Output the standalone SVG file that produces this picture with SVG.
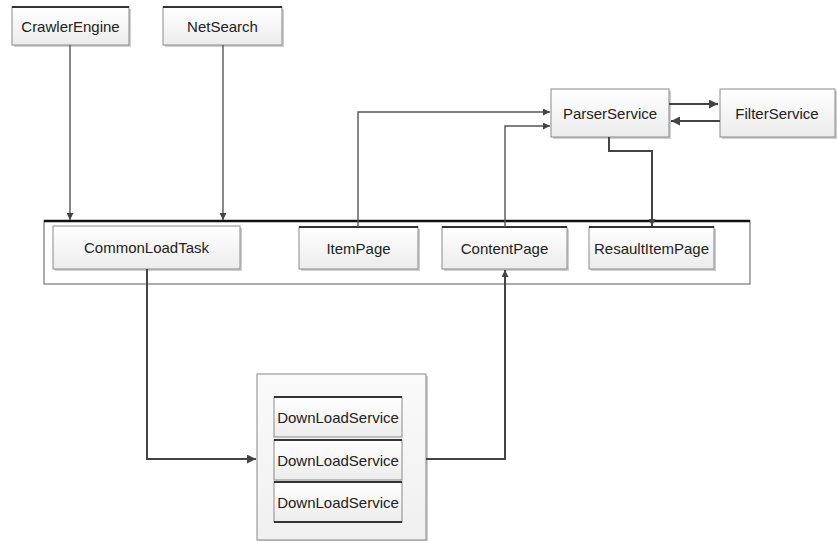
<svg xmlns="http://www.w3.org/2000/svg" width="837" height="541" viewBox="0 0 837 541">
<style>
.box{fill:url(#g);stroke:#8a8a8a;stroke-width:1}
.sh{fill:#cfcfcf}
.top{stroke:#333;stroke-width:2.2}
.t{font-family:"Liberation Sans",Arial,sans-serif;font-size:15px;fill:#222;text-anchor:middle}
.c{fill:none;stroke:#555;stroke-width:1.4}
.c2{fill:none;stroke:#444;stroke-width:2}
</style>
<defs>
<linearGradient id="g" x1="0" y1="0" x2="0" y2="1"><stop offset="0" stop-color="#ffffff"/><stop offset="1" stop-color="#ececec"/></linearGradient>
<linearGradient id="g2" x1="0" y1="0" x2="0" y2="1"><stop offset="0" stop-color="#fafafa"/><stop offset="1" stop-color="#f0f0f0"/></linearGradient>
<marker id="a" viewBox="0 0 10 10" refX="10" refY="5" markerWidth="7" markerHeight="7" markerUnits="userSpaceOnUse" orient="auto"><path d="M0,0 L10,5 L0,10 z" fill="#444"/></marker>
<marker id="b" viewBox="0 0 10 10" refX="10" refY="5" markerWidth="9" markerHeight="9" markerUnits="userSpaceOnUse" orient="auto"><path d="M0,0 L10,5 L0,10 z" fill="#444"/></marker>
</defs>
<rect width="837" height="541" fill="#fff"/>

<g id="container">
<rect x="44" y="221" width="706" height="63" fill="#fff" stroke="#777" stroke-width="1.2"/>
<line x1="44" y1="221" x2="750" y2="221" stroke="#111" stroke-width="2.5"/>
</g>

<g id="downloadGroup">
<rect x="259" y="376" width="169" height="165" fill="#cfcfcf"/>
<rect x="257" y="374" width="169" height="166" fill="url(#g2)" stroke="#888" stroke-width="1"/>
</g>

<g id="CrawlerEngine">
<rect class="sh" x="14" y="9" width="117" height="38"/>
<rect class="box" x="12" y="7" width="117" height="38"/>
<line class="top" x1="12" y1="7" x2="129" y2="7"/>
<text class="t" x="70.5" y="32">CrawlerEngine</text>
</g>
<g id="NetSearch">
<rect class="sh" x="165" y="9" width="119" height="38"/>
<rect class="box" x="163" y="7" width="119" height="38"/>
<line class="top" x1="163" y1="7" x2="282" y2="7"/>
<text class="t" x="222.5" y="32">NetSearch</text>
</g>
<g id="ParserService">
<rect class="sh" x="553" y="91" width="118" height="48"/>
<rect class="box" x="551" y="89" width="118" height="48"/>
<text class="t" x="610" y="119">ParserService</text>
</g>
<g id="FilterService">
<rect class="sh" x="722" y="91" width="115" height="48"/>
<rect class="box" x="720" y="89" width="115" height="48"/>
<text class="t" x="777" y="119">FilterService</text>
</g>
<g id="CommonLoadTask">
<rect class="sh" x="55" y="228" width="187" height="43"/>
<rect class="box" x="53" y="226" width="187" height="43"/>
<text class="t" x="146.5" y="253">CommonLoadTask</text>
</g>
<g id="ItemPage">
<rect class="sh" x="301" y="229" width="119" height="42"/>
<rect class="box" x="299" y="227" width="119" height="42"/>
<line class="top" x1="299" y1="227" x2="418" y2="227"/>
<text class="t" x="358.5" y="254">ItemPage</text>
</g>
<g id="ContentPage">
<rect class="sh" x="444" y="229" width="125" height="42"/>
<rect class="box" x="442" y="227" width="125" height="42"/>
<line class="top" x1="442" y1="227" x2="567" y2="227"/>
<text class="t" x="504.5" y="254">ContentPage</text>
</g>
<g id="ResaultItemPage">
<rect class="sh" x="591" y="229" width="125" height="42"/>
<rect class="box" x="589" y="227" width="125" height="42"/>
<line class="top" x1="589" y1="227" x2="714" y2="227"/>
<text class="t" x="651.5" y="254">ResaultItemPage</text>
</g>
<g id="DownLoadService1">
<rect class="box" x="274" y="397" width="128" height="40"/>
<line class="top" x1="274" y1="397" x2="402" y2="397"/>
<text class="t" x="338" y="423">DownLoadService</text>
</g>
<g id="DownLoadService2">
<rect class="box" x="274" y="440" width="128" height="40"/>
<line class="top" x1="274" y1="440" x2="402" y2="440"/>
<text class="t" x="338" y="466">DownLoadService</text>
</g>
<g id="DownLoadService3">
<rect class="box" x="274" y="482" width="128" height="40"/>
<line class="top" x1="274" y1="482" x2="402" y2="482"/>
<line class="top" x1="274" y1="522" x2="402" y2="522"/>
<text class="t" x="338" y="508">DownLoadService</text>
</g>

<g id="connectors">
<path class="c" d="M70,45 V220" marker-end="url(#a)"/>
<path class="c" d="M223,45 V220" marker-end="url(#a)"/>
<path class="c" d="M358,227 V112 H550" marker-end="url(#a)"/>
<path class="c" d="M505,227 V126 H550" marker-end="url(#a)"/>
<path class="c2" d="M609,137 V151 H652 V226" marker-end="url(#a)"/>
<path class="c2" d="M669,104 H718" marker-end="url(#b)"/>
<path class="c2" d="M720,121 H671" marker-end="url(#b)"/>
<path class="c2" d="M147,269 V459 H256" marker-end="url(#b)"/>
<path class="c2" d="M426,459 H505 V270" marker-end="url(#a)"/>
</g>
</svg>
